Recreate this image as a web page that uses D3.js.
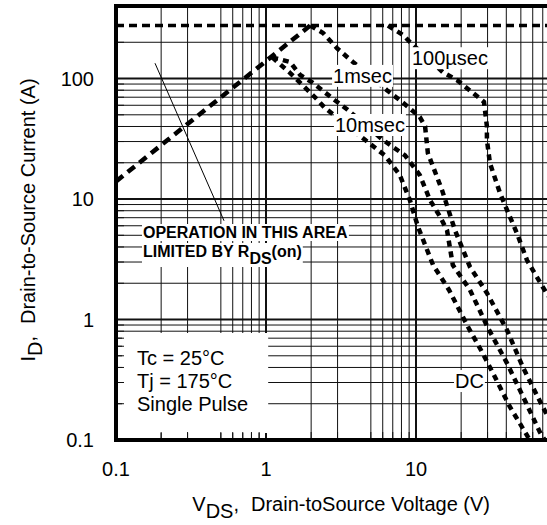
<!DOCTYPE html>
<html>
<head>
<meta charset="utf-8">
<script src="https://cdn.jsdelivr.net/npm/d3@7"></script>
<style>
  body { margin: 0; background: #fff; }
  svg { display: block; font-family: "Liberation Sans", Arial, sans-serif; }
</style>
</head>
<body>
<svg id="chart"></svg>
<script>
// axis ticks and grid (the original grid skips 0.4 and 4 on the V axis)
const xTicks = [0.1, 1, 10];
const yTicks = [0.1, 1, 10, 100];
const xMinor = [0.2, 0.3, 0.5, 0.6, 0.7, 0.8, 0.9, 2, 3, 5, 6, 7, 8, 9, 20, 30, 40, 50, 60, 70, 80, 90];
const yMinor = [0.2, 0.3, 0.4, 0.5, 0.6, 0.7, 0.8, 0.9, 2, 3, 4, 5, 6, 7, 8, 9,
  20, 30, 40, 50, 60, 70, 80, 90, 200];

// curves, [V, A]
const currentLimit = 275;
const rdsLimit = [[0.1, 14], [1.97, 275]];
const pulse100us = [[6.5, 275], [8.2, 230], [9.1, 201], [15.1, 113], [18.8, 97], [22.2, 82],
  [28.4, 64], [29.7, 40], [29.7, 31], [31.1, 19.9], [36.3, 11.2], [42.3, 7.1], [47.1, 5.2],
  [55, 3.1], [64, 2.25], [70, 1.86], [81, 1.4]];
const pulse1ms = [[1.97, 275], [2.4, 239], [2.97, 179], [3.8, 137], [6.4, 80], [8.2, 63],
  [10.6, 48], [11.5, 40], [12, 24], [14.9, 11.9], [18.2, 5.5], [22.9, 2.73], [29.7, 1.66],
  [40.4, 0.82], [51.7, 0.40], [70, 0.188], [78, 0.147]];
const pulse10ms = [[1.1, 150], [1.45, 137], [1.69, 107], [2.03, 93], [2.88, 66], [3.5, 55],
  [6.0, 31], [8.45, 23], [10.6, 15.8], [12.4, 9.8], [14.5, 7.1], [16.1, 5.5], [17.6, 2.83],
  [22.9, 1.76], [30.2, 0.85], [40.4, 0.435], [55.8, 0.188], [67, 0.116], [72, 0.1]];
const pulseDC = [[1.1, 150], [1.45, 111], [2.12, 70], [2.47, 57], [4.57, 31], [6.2, 23],
  [7.8, 15.8], [9.1, 9.8], [10.3, 5.9], [13, 2.83], [16.6, 1.76], [22.2, 0.87], [27.5, 0.54],
  [33.6, 0.333], [42.3, 0.188], [55.8, 0.106], [57.5, 0.1]];

const curveLabels = [
  { text: "100µsec", v: 9.4, a: 129 },
  { text: "1msec", v: 2.8, a: 92 },
  { text: "10msec", v: 2.88, a: 36 },
  { text: "DC", v: 18.2, a: 0.27 }
];
const legendLines = ["Tc = 25°C", "Tj = 175°C", "Single Pulse"];

const width = 547, height = 525;
const margin = { left: 116, top: 6, bottom: 440, right: 566 };

const svg = d3.select("#chart").attr("width", width).attr("height", height);

const x = d3.scaleLog().domain([0.1, 100]).range([margin.left, margin.right]);
const y = d3.scaleLog().domain([0.1, 400]).range([margin.bottom, margin.top]);

svg.append("defs").append("clipPath").attr("id", "plot")
  .append("rect")
  .attr("x", margin.left).attr("y", margin.top)
  .attr("width", margin.right - margin.left).attr("height", margin.bottom - margin.top);

// grid
const grid = svg.append("g");
grid.selectAll(".vx").data(xMinor.concat(xTicks)).enter().append("line")
  .attr("x1", d => x(d)).attr("x2", d => x(d))
  .attr("y1", margin.top).attr("y2", margin.bottom)
  .attr("stroke", "#111")
  .attr("stroke-width", d => xTicks.includes(d) ? 2 : 1);
grid.selectAll(".hy").data(yMinor.concat(yTicks)).enter().append("line")
  .attr("y1", d => y(d)).attr("y2", d => y(d))
  .attr("x1", margin.left).attr("x2", margin.right)
  .attr("stroke", "#111")
  .attr("stroke-width", d => yTicks.includes(d) ? 2 : 1);

// legend block, white box over the grid
const legend = svg.append("g");
legend.selectAll("text").data(legendLines).enter().append("text")
  .attr("x", 137)
  .attr("y", (d, i) => 365 + i * 23)
  .attr("font-size", 20)
  .text(d => d);
const lb = legend.node().getBBox();
legend.insert("rect", "text")
  .attr("x", margin.left + 6).attr("y", lb.y - 14)
  .attr("width", lb.x + lb.width + 20 - margin.left - 6)
  .attr("height", margin.bottom - (lb.y - 14) - 7)
  .attr("fill", "#fff");

// inner ticks on left and bottom
const ticks = svg.append("g").attr("stroke", "#111");
ticks.selectAll(".ty").data(yMinor).enter().append("line")
  .attr("x1", margin.left).attr("x2", margin.left + 8)
  .attr("y1", d => y(d)).attr("y2", d => y(d));
ticks.selectAll(".tx").data(xMinor).enter().append("line")
  .attr("y1", margin.bottom).attr("y2", margin.bottom - 8)
  .attr("x1", d => x(d)).attr("x2", d => x(d));

// curves
const line = d3.line().x(d => x(d[0])).y(d => y(d[1]));
const curves = svg.append("g").attr("clip-path", "url(#plot)").attr("fill", "none").attr("stroke", "#000");

curves.append("path")
  .attr("d", line([[0.1, currentLimit], [100, currentLimit]]))
  .attr("stroke-width", 3.5).attr("stroke-dasharray", "8,5");
curves.append("path")
  .attr("d", line(rdsLimit))
  .attr("stroke-width", 4.5).attr("stroke-dasharray", "9,6");
[pulse100us, pulse1ms, pulse10ms, pulseDC].forEach(c => {
  curves.append("path")
    .attr("d", line(c))
    .attr("stroke-width", 4.5).attr("stroke-dasharray", "6,5");
});

// pointer to the Rds(on) note
svg.append("line")
  .attr("x1", x(0.182)).attr("y1", y(134))
  .attr("x2", x(0.525)).attr("y2", y(6.6))
  .attr("stroke", "#000").attr("stroke-width", 1);

function withBackground(g) {
  g.each(function () {
    const b = this.getBBox();
    d3.select(this.parentNode).insert("rect", () => this)
      .attr("x", b.x - 1).attr("y", b.y)
      .attr("width", b.width + 2).attr("height", b.height)
      .attr("fill", "#fff");
  });
}

const labels = svg.append("g");
labels.selectAll("text").data(curveLabels).enter().append("text")
  .attr("x", d => x(d.v)).attr("y", d => y(d.a))
  .attr("font-size", 20)
  .text(d => d.text)
  .call(withBackground);

const note = svg.append("g").attr("font-weight", "bold").attr("font-size", 16);
note.append("text").attr("x", 143).attr("y", 238).text("OPERATION IN THIS AREA")
  .call(withBackground);
const note2 = note.append("text").attr("x", 143).attr("y", 257);
note2.append("tspan").text("LIMITED BY R");
note2.append("tspan").attr("dy", 7).text("DS");
note2.append("tspan").attr("dy", -7).text("(on)");
note2.call(withBackground);

// frame
svg.append("rect")
  .attr("x", margin.left).attr("y", margin.top)
  .attr("width", margin.right - margin.left).attr("height", margin.bottom - margin.top)
  .attr("fill", "none").attr("stroke", "#000").attr("stroke-width", 4);

// tick labels
svg.append("g").selectAll("text").data(xTicks).enter().append("text")
  .attr("x", d => x(d)).attr("y", 476)
  .attr("text-anchor", "middle").attr("font-size", 20)
  .text(d => d);
svg.append("g").selectAll("text").data(yTicks).enter().append("text")
  .attr("x", 94).attr("y", d => y(d) + 7)
  .attr("text-anchor", "end").attr("font-size", 20)
  .text(d => d);

// axis titles
const xt = svg.append("text").attr("x", 490).attr("y", 511)
  .attr("text-anchor", "end").attr("font-size", 20);
xt.append("tspan").text("V");
xt.append("tspan").attr("dy", 7).text("DS");
xt.append("tspan").attr("dy", -7).text(",");
xt.append("tspan").attr("dx", 12).text("Drain-toSource Voltage (V)");

const yt = svg.append("text")
  .attr("transform", "translate(35,220) rotate(-90)")
  .attr("text-anchor", "middle").attr("font-size", 20);
yt.append("tspan").text("I");
yt.append("tspan").attr("dy", 7).text("D");
yt.append("tspan").attr("dy", -7).text(",");
yt.append("tspan").attr("dx", 12).text("Drain-to-Source Current (A)");
</script>
</body>
</html>
